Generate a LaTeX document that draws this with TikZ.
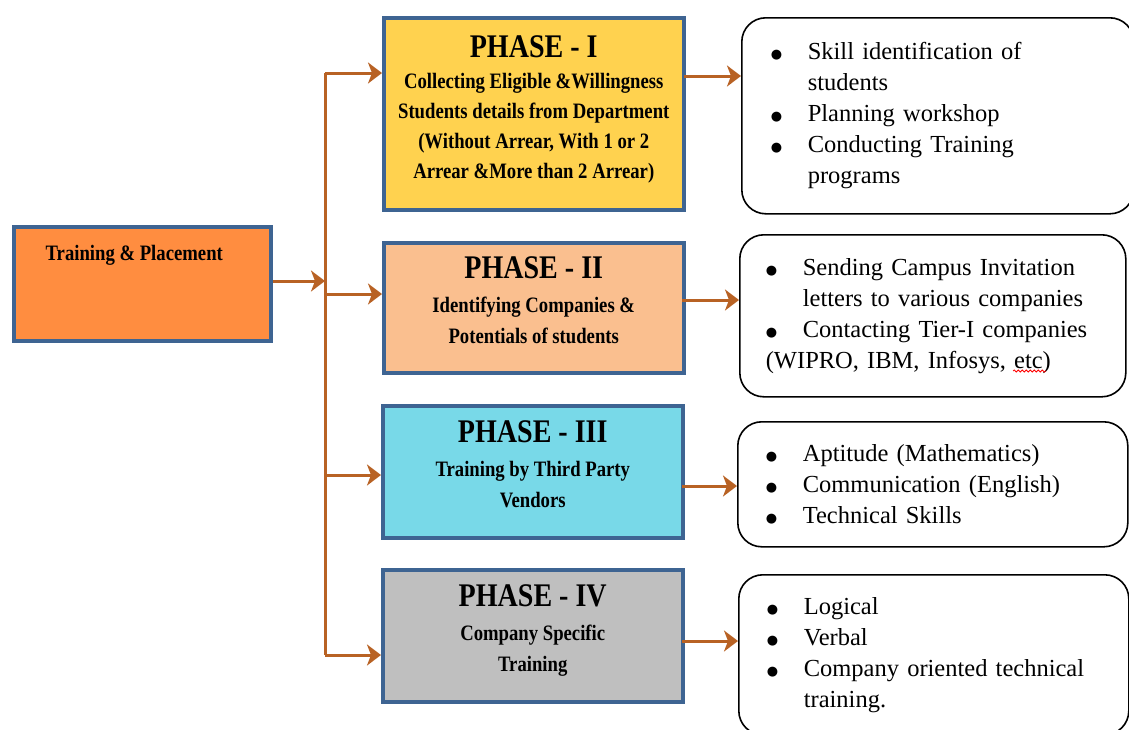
\documentclass[tikz,border=0pt]{standalone}
\usepackage{fontspec}
\setmainfont{Liberation Serif}
\newfontfamily\condfont[FakeStretch=0.85]{Liberation Serif}
\newfontfamily\symfont{DejaVu Sans}
\usetikzlibrary{arrows.meta,positioning}
\usetikzlibrary{decorations.pathmorphing}
\definecolor{linkbrown}{RGB}{184,98,36}
\definecolor{edgeblue}{RGB}{62,100,146}
\definecolor{tporange}{RGB}{255,141,64}
\definecolor{phaseone}{RGB}{255,210,79}
\definecolor{phasetwo}{RGB}{250,191,143}
\definecolor{phasethree}{RGB}{120,217,232}
\definecolor{phasefour}{RGB}{191,191,191}
\tikzset{>={Stealth[inset=4pt,length=14pt,width=21pt]}}
\tikzset{
  phasebox/.style={draw=edgeblue,line width=3.5pt,anchor=north west,align=center,
    inner sep=0pt,minimum width=300pt,text depth=16pt,
    font=\condfont\bfseries\fontsize{22}{31}\selectfont},
  notebox/.style={draw=black,line width=1.6pt,rounded corners=24pt,anchor=north west,
    inner xsep=29pt,inner ysep=0pt,text width=334pt,align=left,
    font=\fontsize{24.5}{31}\selectfont},
  link/.style={->,draw=linkbrown,line width=3pt},
}
\newcommand\bitem[1]{\makebox[37pt][l]{\raisebox{1pt}{\symfont\fontsize{13}{13}\selectfont ●}}#1}
\newcommand\bcont[1]{\hspace*{37pt}#1}
\newcommand\phasetitle[1]{{\fontsize{33}{36}\selectfont #1}}

\begin{document}
\begin{tikzpicture}[x=1pt,y=-1pt]
    \useasboundingbox (0,0) rectangle (1129,729);
    % main unit
    \node[draw=edgeblue,line width=3.5pt,fill=tporange,anchor=north west,
      minimum width=257pt,minimum height=114pt,inner sep=0pt,
      label={[anchor=north,yshift=-17pt,xshift=-8pt,
        font=\condfont\bfseries\fontsize{22}{26}\selectfont]north:Training \& Placement}]
      (tp) at (12,225) {};
    % phases
    \node[phasebox,fill=phaseone,minimum height=192pt,text depth=13pt,
      font=\condfont\bfseries\fontsize{22}{30}\selectfont] (p1) at (382,16)
      {\phasetitle{PHASE - I}\\[1pt] Collecting Eligible \&Willingness\\
       Students details from Department\\ (Without Arrear, With 1 or 2\\
       Arrear \&More than 2 Arrear)};
    \node[phasebox,fill=phasetwo,minimum height=130pt] (p2) at (382,241)
      {\phasetitle{PHASE - II}\\[3pt] Identifying Companies \&\\ Potentials of students};
    \node[phasebox,fill=phasethree,minimum height=132pt] (p3) at (381,404)
      {\phasetitle{PHASE - III}\\[3pt] Training by Third Party\\ Vendors};
    \node[phasebox,fill=phasefour,minimum height=132pt] (p4) at (381,568)
      {\phasetitle{PHASE - IV}\\[3pt] Company Specific\\ Training};
    % activities
    \node[notebox,minimum height=196pt] (s1) at (741,17)
      {\bitem{Skill identification of}\\ \bcont{students}\\
       \bitem{Planning workshop}\\ \bitem{Conducting Training}\\ \bcont{programs}};
    \node[notebox,minimum height=162pt,inner xsep=26pt] (s2) at (739,234)
      {\bitem{Sending Campus Invitation}\\ \bcont{letters to various companies}\\
       \bitem{Contacting Tier-I companies}\\ (WIPRO, IBM, Infosys, etc)};
    \node[notebox,minimum height=125pt,inner xsep=28pt] (s3) at (737,421)
      {\bitem{Aptitude (Mathematics)}\\ \bitem{Communication (English)}\\
       \bitem{Technical Skills}};
    \node[notebox,minimum height=160pt,inner xsep=28pt] (s4) at (738,574)
      {\bitem{Logical}\\ \bitem{Verbal}\\
       \bitem{Company oriented technical}\\ \bcont{training.}};
    % spelling mark
    \draw[red,line width=0.8pt,decorate,decoration={snake,amplitude=1pt,segment length=4pt}]
      (1013,371) -- (1046,371);
    % connectors
    \coordinate (b1) at (325,73);
    \coordinate (b2) at (325,294);
    \coordinate (b3) at (325,475);
    \coordinate (b4) at (325,655);
    \draw[linkbrown,line width=3pt] (b1) -- (b4);
    \draw[link] (tp.east |- 0,281) -- (b1 |- 0,281);
    \foreach \B/\P in {b1/p1,b2/p2,b3/p3,b4/p4}
    {\draw[link] (\B) -- (\B -| \P.west);}
    \coordinate (a1) at (684,76);
    \coordinate (a2) at (682,300);
    \coordinate (a3) at (682,486);
    \coordinate (a4) at (682,641);
    \foreach \A/\S in {a1/s1,a2/s2,a3/s3,a4/s4}
    {\draw[link] (\A) -- (\A -| \S.west);}
\end{tikzpicture}
\end{document}
